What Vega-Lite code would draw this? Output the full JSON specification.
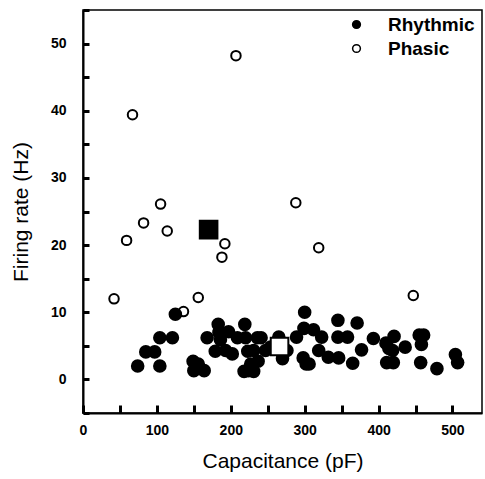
{
  "$schema": "https://vega.github.io/schema/vega-lite/v6.json",
  "autosize": "none",
  "width": 399,
  "height": 403,
  "padding": {"left": 83, "top": 10, "right": 3, "bottom": 66},
  "background": "white",
  "config": {
    "font": "Liberation Sans",
    "view": {"stroke": "black", "strokeWidth": 1.5},
    "axis": {"grid": false, "labelColor": "black", "titleColor": "black", "labelFont": "Liberation Sans", "titleFont": "Liberation Sans"}
  },
  "datasets": {
    "cells": [
      {"cap": 42, "rate": 12.0, "group": "Phasic"},
      {"cap": 59, "rate": 20.7, "group": "Phasic"},
      {"cap": 67, "rate": 39.4, "group": "Phasic"},
      {"cap": 82, "rate": 23.3, "group": "Phasic"},
      {"cap": 105, "rate": 26.1, "group": "Phasic"},
      {"cap": 114, "rate": 22.1, "group": "Phasic"},
      {"cap": 136, "rate": 10.1, "group": "Phasic"},
      {"cap": 156, "rate": 12.2, "group": "Phasic"},
      {"cap": 188, "rate": 18.2, "group": "Phasic"},
      {"cap": 192, "rate": 20.2, "group": "Phasic"},
      {"cap": 207, "rate": 48.2, "group": "Phasic"},
      {"cap": 288, "rate": 26.3, "group": "Phasic"},
      {"cap": 319, "rate": 19.6, "group": "Phasic"},
      {"cap": 447, "rate": 12.5, "group": "Phasic"},
      {"cap": 74, "rate": 2.0, "group": "Rhythmic"},
      {"cap": 85, "rate": 4.1, "group": "Rhythmic"},
      {"cap": 97, "rate": 4.1, "group": "Rhythmic"},
      {"cap": 104, "rate": 6.2, "group": "Rhythmic"},
      {"cap": 104, "rate": 2.0, "group": "Rhythmic"},
      {"cap": 121, "rate": 6.2, "group": "Rhythmic"},
      {"cap": 125, "rate": 9.7, "group": "Rhythmic"},
      {"cap": 149, "rate": 2.7, "group": "Rhythmic"},
      {"cap": 150, "rate": 1.3, "group": "Rhythmic"},
      {"cap": 156, "rate": 2.3, "group": "Rhythmic"},
      {"cap": 164, "rate": 1.3, "group": "Rhythmic"},
      {"cap": 168, "rate": 6.2, "group": "Rhythmic"},
      {"cap": 179, "rate": 4.2, "group": "Rhythmic"},
      {"cap": 183, "rate": 8.2, "group": "Rhythmic"},
      {"cap": 184, "rate": 7.0, "group": "Rhythmic"},
      {"cap": 186, "rate": 5.9, "group": "Rhythmic"},
      {"cap": 197, "rate": 7.1, "group": "Rhythmic"},
      {"cap": 193, "rate": 4.3, "group": "Rhythmic"},
      {"cap": 202, "rate": 3.8, "group": "Rhythmic"},
      {"cap": 209, "rate": 6.2, "group": "Rhythmic"},
      {"cap": 219, "rate": 8.2, "group": "Rhythmic"},
      {"cap": 220, "rate": 6.2, "group": "Rhythmic"},
      {"cap": 223, "rate": 4.2, "group": "Rhythmic"},
      {"cap": 218, "rate": 1.2, "group": "Rhythmic"},
      {"cap": 224, "rate": 1.3, "group": "Rhythmic"},
      {"cap": 231, "rate": 1.2, "group": "Rhythmic"},
      {"cap": 227, "rate": 2.3, "group": "Rhythmic"},
      {"cap": 237, "rate": 2.7, "group": "Rhythmic"},
      {"cap": 231, "rate": 4.3, "group": "Rhythmic"},
      {"cap": 236, "rate": 6.2, "group": "Rhythmic"},
      {"cap": 241, "rate": 6.2, "group": "Rhythmic"},
      {"cap": 247, "rate": 4.3, "group": "Rhythmic"},
      {"cap": 254, "rate": 4.8, "group": "Rhythmic"},
      {"cap": 265, "rate": 6.3, "group": "Rhythmic"},
      {"cap": 270, "rate": 3.1, "group": "Rhythmic"},
      {"cap": 276, "rate": 4.3, "group": "Rhythmic"},
      {"cap": 289, "rate": 6.3, "group": "Rhythmic"},
      {"cap": 300, "rate": 10.0, "group": "Rhythmic"},
      {"cap": 299, "rate": 7.6, "group": "Rhythmic"},
      {"cap": 298, "rate": 3.2, "group": "Rhythmic"},
      {"cap": 302, "rate": 2.3, "group": "Rhythmic"},
      {"cap": 306, "rate": 2.3, "group": "Rhythmic"},
      {"cap": 312, "rate": 7.4, "group": "Rhythmic"},
      {"cap": 323, "rate": 6.3, "group": "Rhythmic"},
      {"cap": 319, "rate": 4.3, "group": "Rhythmic"},
      {"cap": 332, "rate": 3.3, "group": "Rhythmic"},
      {"cap": 345, "rate": 8.8, "group": "Rhythmic"},
      {"cap": 345, "rate": 6.3, "group": "Rhythmic"},
      {"cap": 346, "rate": 3.2, "group": "Rhythmic"},
      {"cap": 358, "rate": 6.3, "group": "Rhythmic"},
      {"cap": 365, "rate": 2.4, "group": "Rhythmic"},
      {"cap": 371, "rate": 8.4, "group": "Rhythmic"},
      {"cap": 377, "rate": 4.4, "group": "Rhythmic"},
      {"cap": 393, "rate": 6.1, "group": "Rhythmic"},
      {"cap": 410, "rate": 5.4, "group": "Rhythmic"},
      {"cap": 414, "rate": 4.6, "group": "Rhythmic"},
      {"cap": 421, "rate": 6.4, "group": "Rhythmic"},
      {"cap": 419, "rate": 4.3, "group": "Rhythmic"},
      {"cap": 411, "rate": 2.5, "group": "Rhythmic"},
      {"cap": 420, "rate": 2.5, "group": "Rhythmic"},
      {"cap": 436, "rate": 4.8, "group": "Rhythmic"},
      {"cap": 455, "rate": 6.6, "group": "Rhythmic"},
      {"cap": 461, "rate": 6.6, "group": "Rhythmic"},
      {"cap": 458, "rate": 5.2, "group": "Rhythmic"},
      {"cap": 457, "rate": 2.5, "group": "Rhythmic"},
      {"cap": 479, "rate": 1.6, "group": "Rhythmic"},
      {"cap": 504, "rate": 3.7, "group": "Rhythmic"},
      {"cap": 507, "rate": 2.5, "group": "Rhythmic"}
    ],
    "means": [
      {"cap": 170, "rate": 22.3, "group": "Phasic"},
      {"cap": 266, "rate": 4.9, "group": "Rhythmic"}
    ]
  },
  "encoding": {
    "x": {
      "field": "cap", "type": "quantitative",
      "scale": {"domain": [0, 540], "nice": false, "zero": false},
      "axis": {
        "title": "Capacitance (pF)", "titleFontSize": 21, "titleFontWeight": "normal", "titlePadding": 13,
        "labelExpr": "datum.value % 100 === 0 ? datum.label : ''",
        "labelFontSize": 14, "labelFontWeight": "bold", "labelPadding": 18, "labelFlush": false,
        "ticks": true, "tickColor": "#000000", "tickOpacity": 1, "tickWidth": 3, "tickSize": -8,
        "domainColor": "black", "domainWidth": 2
      }
    },
    "y": {
      "field": "rate", "type": "quantitative",
      "scale": {"domain": [-5, 55], "nice": false, "zero": false},
      "axis": {
        "title": "Firing rate (Hz)", "titleFontSize": 21, "titleFontWeight": "normal", "titlePadding": 19,
        "labelExpr": "datum.value % 10 === 0 ? datum.label : ''",
        "labelFontSize": 14, "labelFontWeight": "bold", "labelPadding": 23,
        "ticks": true, "tickColor": "black", "tickOpacity": 1, "tickWidth": 3, "tickSize": -6,
        "domainColor": "black", "domainWidth": 2
      }
    }
  },
  "layer": [
    {
      "data": {"name": "cells"},
      "mark": {"type": "point", "shape": "circle", "filled": false, "stroke": "black", "strokeWidth": 2, "opacity": 1},
      "encoding": {
        "fill": {
          "field": "group", "type": "nominal",
          "scale": {"domain": ["Rhythmic", "Phasic"], "range": ["black", "white"]},
          "legend": {
            "title": null, "orient": "none", "legendX": 264, "legendY": 5,
            "symbolType": "circle", "symbolSize": 60, "symbolStrokeColor": "black", "symbolStrokeWidth": 1.5,
            "labelFontSize": 19, "labelFontWeight": "bold", "labelColor": "black", "labelOffset": 22, "rowPadding": 4, "padding": 0
          }
        },
        "size": {"condition": {"test": "datum.group === 'Rhythmic'", "value": 135}, "value": 90}
      }
    },
    {
      "data": {"name": "means"},
      "mark": {"type": "point", "shape": "square", "stroke": "black", "strokeWidth": 2, "size": 310, "opacity": 1},
      "encoding": {
        "fill": {"condition": {"test": "datum.group === 'Phasic'", "value": "black"}, "value": "white"}
      }
    }
  ]
}
